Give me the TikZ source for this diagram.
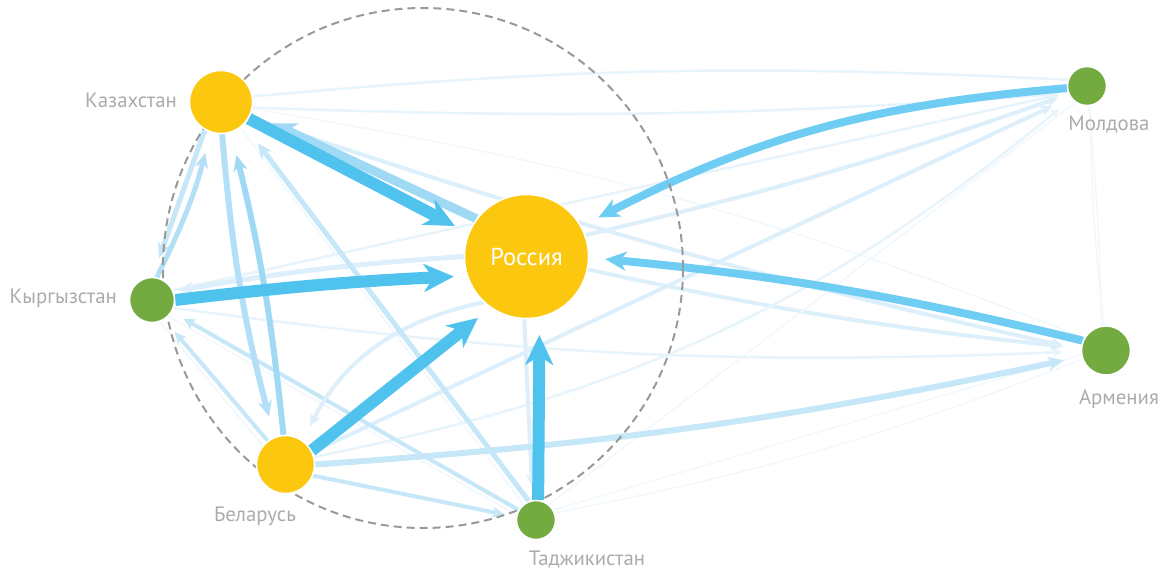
\documentclass[tikz,border=0pt]{standalone}
\usepackage{fontspec}
\setmainfont{PT Sans}
\usetikzlibrary{arrows.meta}
\definecolor{cyel}{HTML}{FCC70F}
\definecolor{cgrn}{HTML}{73AB41}
\definecolor{cA}{HTML}{4FC3EE}
\definecolor{cB}{HTML}{6FCDF3}
\definecolor{cC}{HTML}{A0D9F4}
\definecolor{cD}{HTML}{B3E0F6}
\definecolor{cE}{HTML}{C6E7F8}
\definecolor{cF}{HTML}{DCEFFA}
\definecolor{cG}{HTML}{E8F4FC}
\definecolor{cH}{HTML}{F0F8FD}
\definecolor{ctxt}{HTML}{ABABAB}
\definecolor{cdash}{HTML}{999999}
\pgfdeclarelayer{bg}\pgfdeclarelayer{mid}\pgfsetlayers{bg,mid,main}
\tikzset{
  country/.style={circle, inner sep=0pt, draw=white, line width=1.5pt},
  big/.style={line width=12pt,-{Stealth[length=30pt,width=28pt,inset=9pt]}},
  midw/.style={line width=8pt,-{Stealth[length=21pt,width=19pt,inset=6pt]}},
  med/.style={line width=6pt,-{Stealth[length=16pt,width=14pt,inset=5pt]}},
  medl/.style={line width=5pt,-{Stealth[length=15pt,width=13pt,inset=4.5pt]}},
  lite/.style={line width=4pt,-{Stealth[length=12pt,width=11pt,inset=3.5pt]}},
  thin/.style={line width=2.5pt,-{Stealth[length=10pt,width=9pt,inset=3pt]}},
  hair/.style={line width=1.5pt},
  lbl/.style={text=ctxt, inner sep=0pt, font=\fontsize{20.8}{24}\selectfont},
}
\begin{document}
\begin{tikzpicture}[x=1pt,y=1pt]
\useasboundingbox (0,0) rectangle (1176,-571);
% nodes
\node[country, fill=cyel, minimum size=63pt] (kaz) at (221,-102) {};
\node[country, fill=cyel, minimum size=124pt, text=white, font=\fontsize{24.5}{28}\selectfont] (rus) at (526.5,-256.5) {Россия};
\node[country, fill=cgrn, minimum size=45pt] (kyr) at (152,-300) {};
\node[country, fill=cyel, minimum size=58pt] (bel) at (285.5,-464.5) {};
\node[country, fill=cgrn, minimum size=39pt] (taj) at (536,-520) {};
\node[country, fill=cgrn, minimum size=39pt] (mol) at (1087,-86) {};
\node[country, fill=cgrn, minimum size=49pt] (arm) at (1106,-350.5) {};
% labels
\node[lbl, anchor=base east] (kazl) at (177,-107) {Казахстан};
\node[lbl, anchor=base east] (kyrl) at (117,-303) {Кыргызстан};
\node[lbl, anchor=base] (bell) at (255,-521) {Беларусь};
\node[lbl, anchor=base] (tajl) at (587,-565) {Таджикистан};
\node[lbl, anchor=base] (moll) at (1109,-130) {Молдова};
\node[lbl, anchor=base] (arml) at (1119,-404) {Армения};
% dashed circle
\begin{pgfonlayer}{mid}
\draw[cdash, line width=2pt, dash pattern=on 8pt off 5pt] (423,-268) circle[radius=260];
\end{pgfonlayer}
% edges
\begin{pgfonlayer}{bg}
% faint
\draw[hair, cH] (kaz.-53) -- (taj.129);
\draw[thin, -, cG] (kaz.10) to[bend left=4] (mol.162);
\draw[thin, cG, shorten >=9pt] (kaz.-10) to[bend right=3] (mol.-158);
\draw[hair, cH] (kaz.-12) to[bend left=6] (arm.150);
\draw[lite, cF, shorten >=18pt] (kaz.-28) to[bend right=3] (arm.178);
\draw[thin, cG, shorten >=9pt] (kyr.25) -- (mol.-160);
\draw[thin, cG, shorten >=18pt] (kyr.-20) to[bend right=5] (arm.182);
\draw[hair, cH] (kyr.-45) -- (taj.165);
\draw[hair, cH] (kyr.-70) -- (bel.140);
\draw[lite, cF, shorten >=11pt] (rus.20) to[bend right=3] (mol.-156);
\draw[lite, cF, shorten >=18pt] (rus.-12) to[bend right=3] (arm.175);
\draw[lite, cF, shorten >=20pt] (bel.25) -- (mol.-145);
\draw[thin, cG, shorten >=15pt] (bel.15) to[bend right=14] (mol.-140);
\draw[hair, cH] (taj.50) -- (mol.-125);
\draw[hair, cH] (taj.30) -- (arm.-170);
\draw[hair, cH] (taj.20) to[bend right=5] (arm.-160);
\draw[hair, cH] (mol.-85) to[bend left=2] (arm.100);
\draw[hair, cH] (mol.-80) to[bend right=3] (arm.95);
% medium
\draw[lite, cF, shorten >=14pt] (rus.-92) -- (taj.100);
\draw[lite, cE, shorten >=12pt] (bel.-22) -- (taj.171);
\draw[lite, cE, shorten >=13pt] (taj.150) -- (kyr.-31);
\draw[lite, cE, shorten >=16pt] (bel.127) -- (kyr.-58);
\draw[lite, cF, shorten >=16pt] (rus.-133) to[bend right=26] (bel.54);
\draw[medl, cF, shorten >=5pt] (rus.180) to[bend right=3] (kyr.22);
\draw[medl, cE, shorten >=23pt] (taj.111) -- (kaz.-45);
\draw[medl, cE, shorten >=20pt] (kaz.-120) -- (kyr.89);
\draw[medl, cD, shorten >=21pt] (kyr.78) to[bend right=6] (kaz.-109);
\draw[med, cD, shorten >=21pt] (kaz.-88) to[bend right=5] (bel.112);
\draw[med, cC, shorten >=23pt] (bel.94) to[bend right=4] (kaz.-72);
\draw[med, cE, shorten >=18pt] (bel.0) to[bend right=4] (arm.-166);
\draw[line width=9pt, cC, -{Stealth[length=24pt,width=22pt,inset=7pt]}, shorten >=23pt] (rus.143) -- (kaz.-21);
% strong
\draw[midw, cB, shorten >=16pt] (arm.157) to[bend right=4] (rus.-1);
\draw[midw, cB, shorten >=19pt] (mol.186) to[bend right=11] (rus.29);
\draw[big, cA, shorten >=17pt] (taj.84) -- (rus.-78);
\draw[big, cA, shorten >=16pt] (bel.28) -- (rus.-125);
\draw[big, cA, shorten >=13pt] (kyr.0) to[bend left=2] (rus.198);
\draw[big, cA, shorten >=15pt] (kaz.-31) -- (rus.158);
\end{pgfonlayer}
\end{tikzpicture}
\end{document}
